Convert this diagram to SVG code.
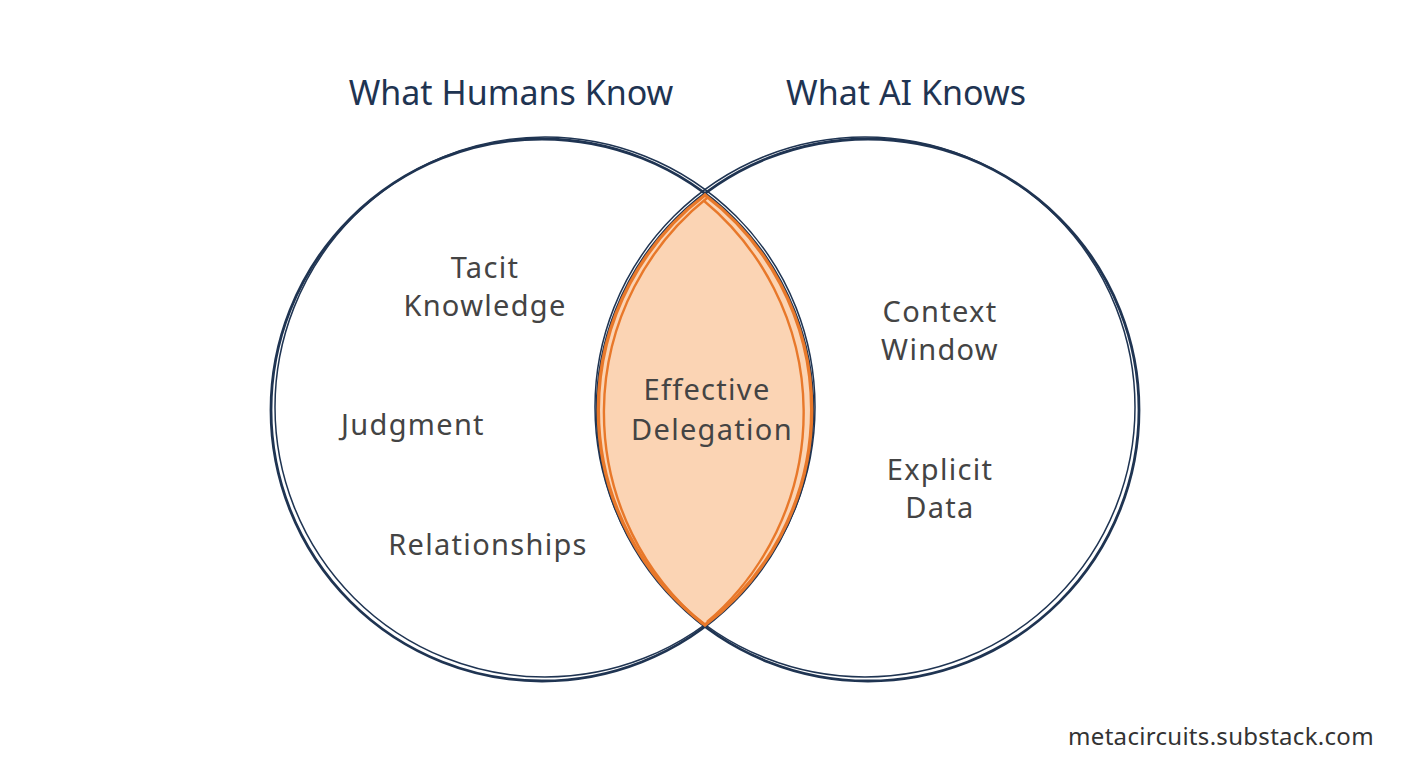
<svg xmlns="http://www.w3.org/2000/svg" width="1408" height="768" viewBox="0 0 1408 768">
<style>
.ring{fill:none;stroke:#1f3452;stroke-width:2.8}
.ring2{fill:none;stroke:#1f3452;stroke-width:1.5}
.lensfill{fill:#fbd4b4;stroke:none}
.lensline{fill:none;stroke:#e8782a;stroke-width:3.4}
.title{font-family:"Noto Sans","DejaVu Sans",sans-serif;font-size:34px;fill:#1f3452;text-anchor:middle}
.label{font-family:"Noto Sans","DejaVu Sans",sans-serif;font-size:29px;letter-spacing:1.3px;fill:#444;text-anchor:middle}
.foot{font-family:"Noto Sans","DejaVu Sans",sans-serif;font-size:24px;letter-spacing:0.3px;fill:#333;text-anchor:middle}
</style>
<rect width="1408" height="768" fill="#ffffff"/>
<g id="overlap">
<path class="lensfill" d="M705,195 A270,270 0 0 1 705,625 A270,270 0 0 1 705,195 Z"/>
</g>
<g id="humans">
<circle class="ring" cx="542" cy="410" r="271"/>
<circle class="ring2" cx="545" cy="407" r="270"/>
<text class="title" x="511" y="105">What Humans Know</text>
<text class="label" x="485" y="278">Tacit</text>
<text class="label" x="485" y="316">Knowledge</text>
<text class="label" x="413" y="435">Judgment</text>
<text class="label" x="488" y="555">Relationships</text>
</g>
<g id="ai">
<circle class="ring" cx="868" cy="410" r="271"/>
<circle class="ring2" cx="865" cy="407" r="270"/>
<text class="title" x="906" y="105">What AI Knows</text>
<text class="label" x="940" y="322">Context</text>
<text class="label" x="940" y="360">Window</text>
<text class="label" x="940" y="480">Explicit</text>
<text class="label" x="940" y="518">Data</text>
</g>
<g id="lens">
<path class="lensline" d="M705,195 A270,270 0 0 1 705,625 A270,270 0 0 1 705,195 Z"/>
<path class="lensline" style="stroke-width:2.4" d="M703,200 A275,275 0 0 1 707,622 M707,198 A275,275 0 0 0 703,624"/>
<text class="label" x="707" y="400">Effective</text>
<text class="label" x="712" y="440">Delegation</text>
</g>
<g id="connectors"></g>
<text class="foot" x="1221" y="745">metacircuits.substack.com</text>
</svg>
